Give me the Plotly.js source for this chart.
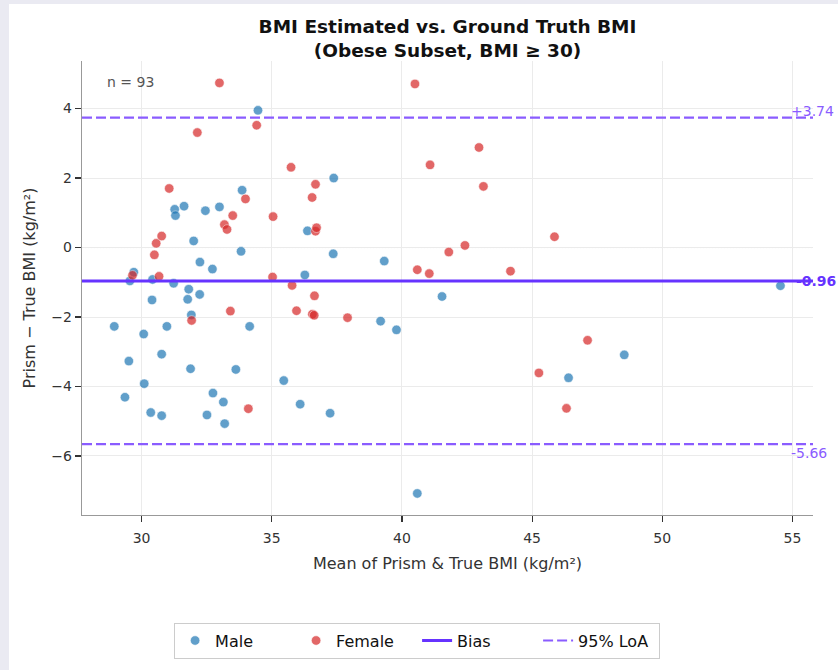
<!DOCTYPE html>
<html>
<head>
<meta charset="utf-8">
<script src="https://cdn.plot.ly/plotly-3.0.1.min.js"></script>
<style>
  html, body { margin: 0; padding: 0; background: #eaeaf2; width: 838px; height: 670px; overflow: hidden; }
  #chart { position: absolute; left: 9px; top: 4px; width: 829px; height: 666px; background: #ffffff; }
</style>
</head>
<body>
<div id="chart"></div>
<script>
// ---- Data ----
const maleX = [34.47, 33.86, 31.63, 31.27, 31.30, 32.45, 32.99, 32.00, 33.82, 32.24,
               32.72, 29.70, 29.55, 30.42, 31.23, 31.81, 32.23, 30.40, 31.77, 31.91,
               28.95, 30.97, 34.15, 30.08, 30.77, 29.51, 31.88, 33.62, 30.10, 29.36,
               32.74, 33.14, 30.35, 30.77, 32.51, 33.19, 37.38, 36.37, 37.36, 39.32,
               36.27, 39.18, 39.79, 35.46, 36.09, 37.24, 41.54, 40.59, 46.40, 48.54,
               54.54];
const maleY = [3.95, 1.65, 1.19, 1.10, 0.92, 1.06, 1.17, 0.19, -0.11, -0.42,
               -0.62, -0.71, -0.96, -0.92, -1.03, -1.20, -1.35, -1.51, -1.49, -1.94,
               -2.27, -2.27, -2.27, -2.49, -3.07, -3.27, -3.49, -3.51, -3.92, -4.31,
               -4.19, -4.45, -4.75, -4.84, -4.82, -5.07, 2.00, 0.48, -0.18, -0.39,
               -0.79, -2.12, -2.37, -3.83, -4.51, -4.77, -1.41, -7.08, -3.75, -3.09,
               -1.10];
const femaleX = [32.99, 34.42, 32.14, 31.06, 33.99, 33.50, 33.18, 33.28, 35.05, 30.77,
                 30.56, 30.49, 29.65, 30.67, 35.03, 33.41, 31.92, 34.10, 35.74, 36.68,
                 36.55, 36.68, 36.72, 35.78, 36.64, 35.95, 36.56, 36.63, 37.91, 40.50,
                 42.96, 41.08, 43.13, 45.86, 42.42, 41.80, 40.59, 41.05, 44.17, 45.26,
                 46.32, 47.13];
const femaleY = [4.74, 3.52, 3.31, 1.70, 1.40, 0.92, 0.66, 0.52, 0.89, 0.33,
                 0.12, -0.21, -0.80, -0.83, -0.85, -1.83, -2.10, -4.64, 2.31, 1.82,
                 1.44, 0.47, 0.57, -1.09, -1.39, -1.82, -1.92, -1.95, -2.02, 4.71,
                 2.88, 2.38, 1.76, 0.31, 0.06, -0.13, -0.64, -0.75, -0.68, -3.61,
                 -4.63, -2.67];
const bias = -0.96;
const loaUpper = 3.74;
const loaLower = -5.66;
const nCount = 93;
const xTicks = [30, 35, 40, 45, 50, 55];
const yTicks = [-6, -4, -2, 0, 2, 4];

// ---- Axis ranges ----
const xRange = [27.71, 55.79];
const yRange = [-7.70, 5.37];

const fontFam = "DejaVu Sans, Liberation Sans, sans-serif";
const biasColor = "#6633ff";
const loaColor = "#8a5cff";

const traces = [
  {
    type: "scatter", mode: "markers", name: "Male",
    x: maleX, y: maleY,
    marker: { color: "#1f77b4", opacity: 0.7, size: 9.5, line: { color: "#ffffff", width: 0.6 } }
  },
  {
    type: "scatter", mode: "markers", name: "Female",
    x: femaleX, y: femaleY,
    marker: { color: "#d62728", opacity: 0.7, size: 9.5, line: { color: "#ffffff", width: 0.6 } }
  },
  {
    type: "scatter", mode: "lines", name: "Bias",
    x: [xRange[0], xRange[1]], y: [bias, bias],
    line: { color: biasColor, width: 3 }
  },
  {
    type: "scatter", mode: "lines", name: "95% LoA",
    x: [xRange[0], xRange[1], null, xRange[0], xRange[1]],
    y: [loaUpper, loaUpper, null, loaLower, loaLower],
    line: { color: loaColor, width: 2.2, dash: "10px,4px" }
  }
];

const fmt = v => (v >= 0 ? "+" : "-") + Math.abs(v).toFixed(2);

const layout = {
  width: 829, height: 666,
  paper_bgcolor: "#ffffff", plot_bgcolor: "#ffffff",
  margin: { l: 73.3, r: 24.5, t: 57, b: 149 },
  font: { family: fontFam, color: "#333333", size: 14 },
  title: {
    text: "<b>BMI Estimated vs. Ground Truth BMI</b><br><b>(Obese Subset, BMI ≥ 30)</b>",
    font: { family: fontFam, size: 18.5, color: "#111111" },
    x: 0.5, xref: "paper", xanchor: "center",
    y: 0.957, yref: "container", yanchor: "middle"
  },
  xaxis: {
    range: xRange, tickvals: xTicks, ticks: "outside", ticklen: 6, tickwidth: 1.2, tickcolor: "#333333",
    ticklabelstandoff: 4,
    showline: true, linecolor: "#999999", linewidth: 1.3, mirror: false,
    showgrid: true, gridcolor: "#ebebeb", gridwidth: 1, zeroline: false,
    tickfont: { size: 14, color: "#333333" },
    title: { text: "Mean of Prism & True BMI (kg/m²)", font: { size: 16, color: "#333333" }, standoff: 12 },
    automargin: false
  },
  yaxis: {
    range: yRange, tickvals: yTicks, ticks: "outside", ticklen: 6, tickwidth: 1.2, tickcolor: "#333333",
    showline: true, linecolor: "#999999", linewidth: 1.3, mirror: false,
    showgrid: true, gridcolor: "#ebebeb", gridwidth: 1, zeroline: false,
    tickfont: { size: 14, color: "#333333" },
    title: { text: "Prism − True BMI (kg/m²)", font: { size: 16, color: "#333333" }, standoff: 11 },
    automargin: false
  },
  shapes: [
    { type: "line", xref: "paper", x0: 0, x1: 1, yref: "y", y0: 0, y1: 0,
      line: { color: "#888888", width: 1, dash: "1px,2px" }, layer: "below" }
  ],
  annotations: [
    { xref: "paper", yref: "paper", x: 0.031, y: 0.954, xanchor: "left", yanchor: "middle",
      text: "n = " + nCount, showarrow: false, font: { size: 14, color: "#555555" } },
    { xref: "paper", yref: "y", x: 0.9665, y: loaUpper, xanchor: "left", yanchor: "bottom",
      text: fmt(loaUpper), showarrow: false, font: { size: 14, color: loaColor }, yshift: -3 },
    { xref: "paper", yref: "y", x: 0.9745, y: bias, xanchor: "left", yanchor: "middle",
      text: "<b>" + fmt(bias) + "</b>", showarrow: false, font: { size: 14, color: biasColor } },
    { xref: "paper", yref: "y", x: 0.967, y: loaLower, xanchor: "left", yanchor: "top",
      text: fmt(loaLower), showarrow: false, font: { size: 14, color: loaColor }, yshift: 1 }
  ],
  showlegend: true,
  legend: {
    orientation: "h", x: 0.4584, xanchor: "center", y: -0.237, yanchor: "top",
    bordercolor: "#cccccc", borderwidth: 1, bgcolor: "#ffffff",
    entrywidth: 76, entrywidthmode: "pixels",
    font: { size: 16, color: "#111111" }
  }
};

Plotly.newPlot("chart", traces, layout, { displayModeBar: false, staticPlot: true });
</script>
</body>
</html>
